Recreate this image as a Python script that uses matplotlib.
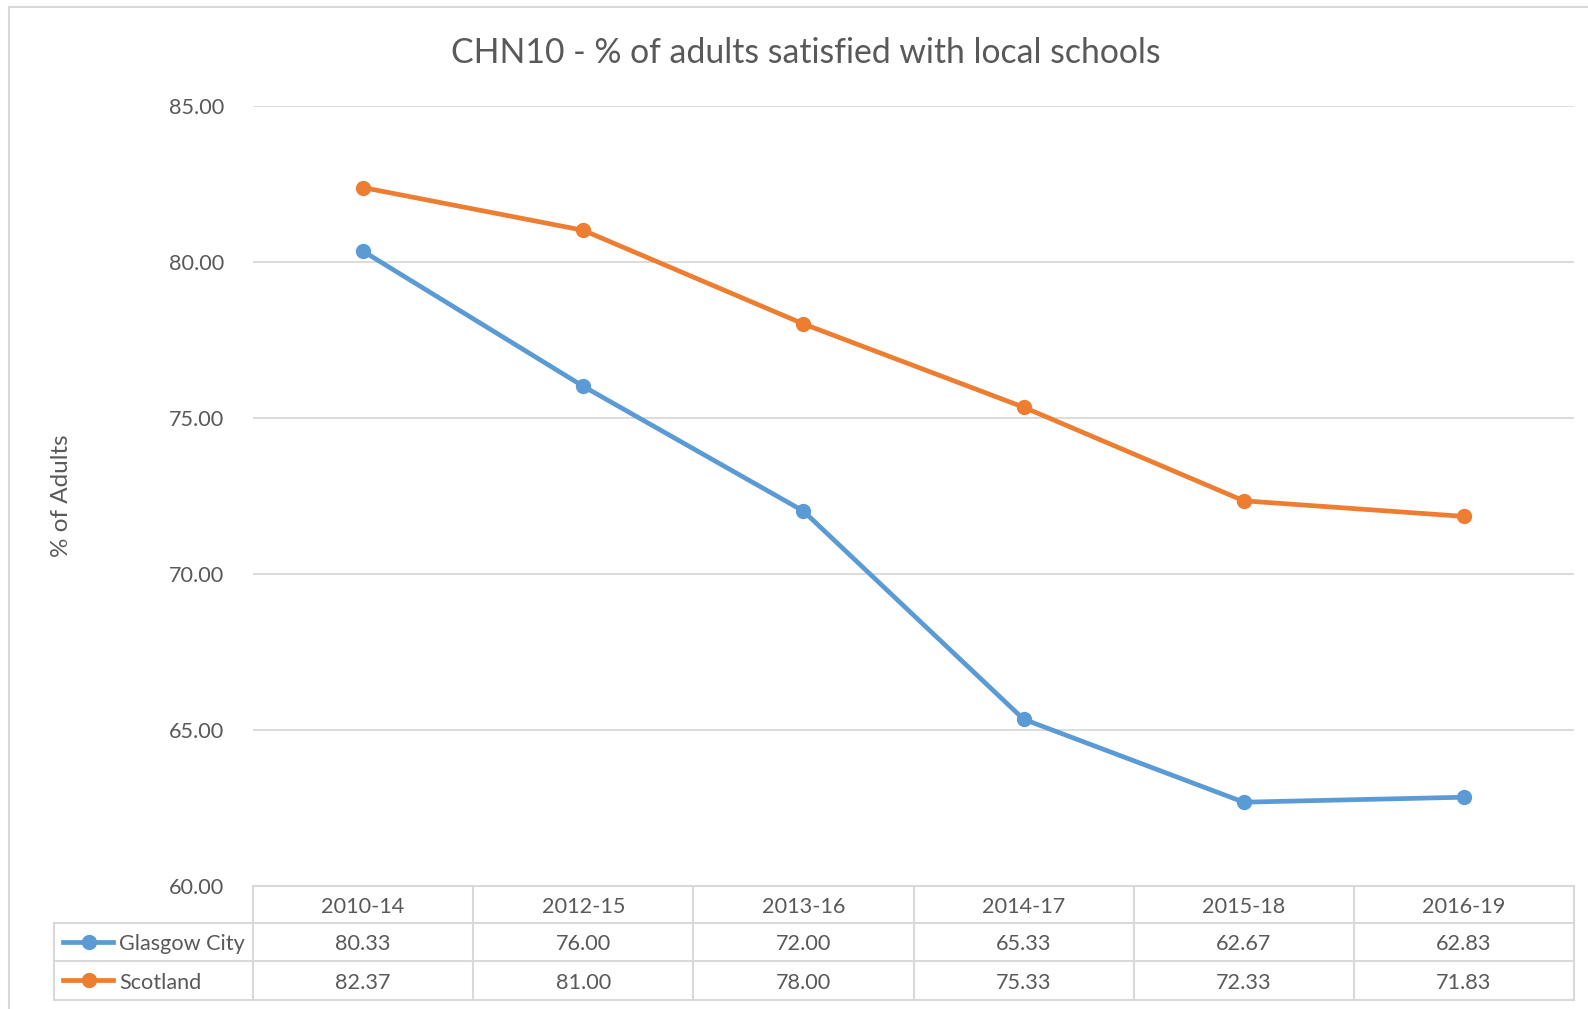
import matplotlib
matplotlib.use("Agg")
import matplotlib.pyplot as plt
from matplotlib.lines import Line2D
from matplotlib.patches import Rectangle
import matplotlib.transforms as mtrans

# ---- data ----
periods = ["2010-14", "2012-15", "2013-16", "2014-17", "2015-18", "2016-19"]
glasgow = [80.33, 76.00, 72.00, 65.33, 62.67, 62.83]
scotland = [82.37, 81.00, 78.00, 75.33, 72.33, 71.83]
series_names = ["Glasgow City", "Scotland"]
yticks = [60, 65, 70, 75, 80, 85]
title = "CHN10 - % of adults satisfied with local schools"
ylabel = "% of Adults"

BLUE = "#5B9BD5"
ORANGE = "#ED7D31"
GRID = "#D9D9D9"
TXT = "#595959"
FONT = "Lato"
FS = 15.6

W, H = 1588, 1009
fig = plt.figure(figsize=(W / 100, H / 100), dpi=100)
fig.patch.set_facecolor("white")

def fx(px):
    return px / W

def fy(py):
    return 1 - py / H

# chart border (clipped on right/bottom)
fig.patches.append(Rectangle((fx(9), fy(1030)), fx(1620), fy(7) - fy(1030),
                             transform=fig.transFigure, fill=False,
                             edgecolor=GRID, linewidth=1.5))

left, right, top, bottom = 253, 1574, 105.5, 885.5
ax = fig.add_axes([fx(left), fy(bottom), fx(right - left), fy(top) - fy(bottom)])
x = list(range(len(periods)))
ax.set_xlim(-0.5, len(periods) - 0.5)
ax.set_ylim(60, 85)
ax.set_yticks(yticks)
ax.set_yticklabels([f"{v:.2f}" for v in yticks], fontsize=FS, color=TXT, family=FONT)
ax.tick_params(axis="y", length=0, pad=20.5)
ax.set_xticks([])
for s in ax.spines.values():
    s.set_visible(False)
ax.grid(axis="y", color=GRID, linewidth=1.3)
ax.set_axisbelow(True)

ax.plot(x, glasgow, color=BLUE, linewidth=3.4, marker="o", markersize=10, clip_on=False)
ax.plot(x, scotland, color=ORANGE, linewidth=3.4, marker="o", markersize=10, clip_on=False)

fig.text(fx(806), fy(53), title, ha="center", va="center", fontsize=24.3,
         color=TXT, family=FONT)
fig.text(fx(62), fy(496), ylabel, ha="center", va="center", rotation=90,
         fontsize=17.5, color=TXT, family=FONT)

# ---- data table ----
bt = mtrans.blended_transform_factory(ax.transData, fig.transFigure)
rows_y = [885.5, 923, 961, 999.5]
lw = 1.5
off = 2.5
# horizontal lines
fig.add_artist(Line2D([fx(left), fx(right)], [fy(rows_y[0])] * 2, color=GRID, lw=lw))
for ry in rows_y[1:]:
    fig.add_artist(Line2D([fx(54), fx(right)], [fy(ry)] * 2, color=GRID, lw=lw))
# vertical lines
for k in range(len(periods) + 1):
    fig.add_artist(Line2D([k - 0.5, k - 0.5], [fy(rows_y[0]), fy(rows_y[3])],
                          transform=bt, color=GRID, lw=lw))
fig.add_artist(Line2D([fx(54), fx(54)], [fy(rows_y[1]), fy(rows_y[3])], color=GRID, lw=lw))

for i, p in enumerate(periods):
    fig.text(i, fy((rows_y[0] + rows_y[1]) / 2 + off), p, transform=bt, ha="center",
             va="center", fontsize=FS, color=TXT, family=FONT)
for r, (name, vals, col) in enumerate(zip(series_names, [glasgow, scotland], [BLUE, ORANGE])):
    cyp = (rows_y[r + 1] + rows_y[r + 2]) / 2
    cy = fy(cyp + off)
    for i, v in enumerate(vals):
        fig.text(i, cy, f"{v:.2f}", transform=bt, ha="center", va="center",
                 fontsize=FS, color=TXT, family=FONT)
    fig.add_artist(Line2D([fx(63), fx(113)], [fy(cyp)] * 2, color=col, lw=3.4))
    fig.add_artist(Line2D([fx(89)], [fy(cyp)], color=col, marker="o", markersize=10))
    fig.text(fx(119), cy, name, ha="left", va="center", fontsize=FS, color=TXT, family=FONT)

fig.savefig("out.png", dpi=100, facecolor="white")
